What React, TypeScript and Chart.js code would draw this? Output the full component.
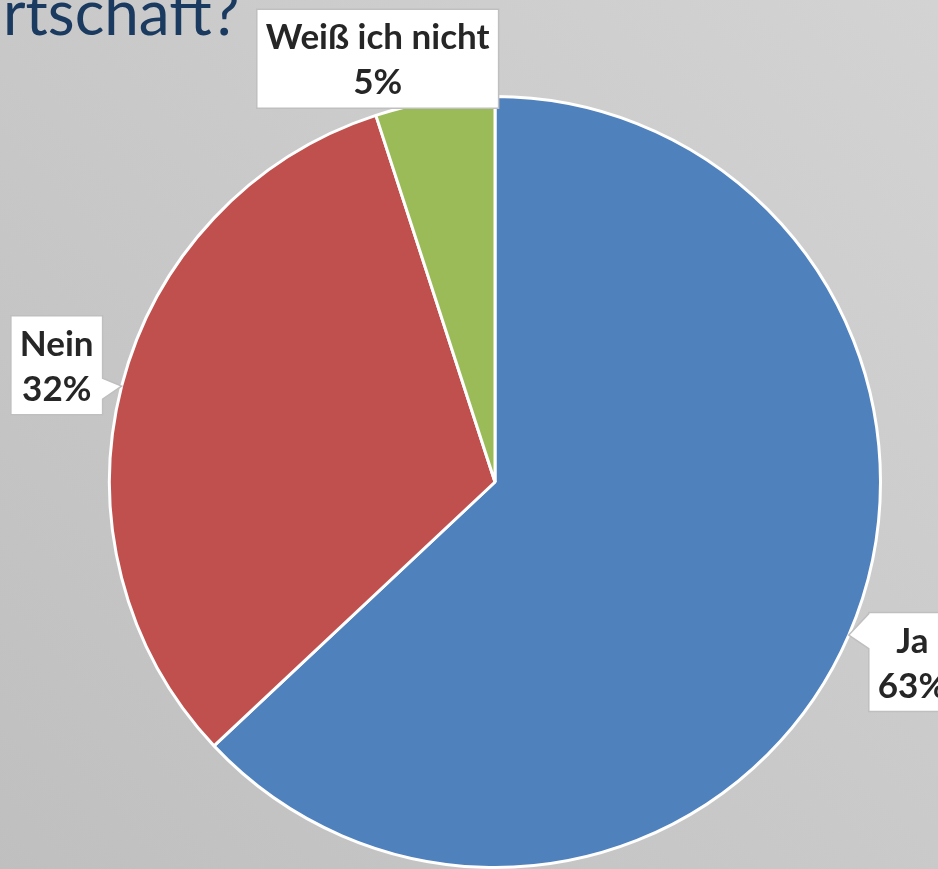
import React, { useEffect, useRef } from "react";
import { Chart, registerables } from "chart.js";

Chart.register(...registerables);

const categories = ["Ja", "Nein", "Weiß ich nicht"];
const values = [63, 32, 5];
const valueLabels = ["63%", "32%", "5%"];
const sliceColors = ["#4f81bd", "#c0504d", "#9bbb59"];
const titleText = "rtschaft?";

// label box placement (style): side of anchor, offsets
const labelPlacement = [
  { side: "right", gap: 20, dy: 27 },
  { side: "left", gap: 19, dy: -21 },
  { side: "above", gap: 7, dx: -57 },
];

const FONT = "bold 35px Lato, 'Noto Sans', sans-serif";
const LINE_H = 45;
const BOX_H = 99;
const PAD = 9;

const labelPlugin = {
  id: "calloutLabels",
  beforeDraw(chart: any) {
    const ctx = chart.ctx;
    ctx.save();
    const g = ctx.createLinearGradient(0, chart.height, chart.width, 0);
    g.addColorStop(0, "#bfbfbf");
    g.addColorStop(0.5, "#c9c9c9");
    g.addColorStop(1, "#d3d3d3");
    ctx.fillStyle = g;
    ctx.fillRect(0, 0, chart.width, chart.height);
    ctx.fillStyle = "#1b3a60";
    ctx.font = "400 62px Lato, 'Noto Sans', sans-serif";
    ctx.textBaseline = "alphabetic";
    ctx.textAlign = "left";
    ctx.fillText(titleText, 3, 35);
    ctx.restore();
  },
  afterDraw(chart: any) {
    const ctx = chart.ctx;
    const meta = chart.getDatasetMeta(0);
    ctx.save();
    ctx.font = FONT;
    meta.data.forEach((arc: any, i: number) => {
      const p = arc.getProps(["x", "y", "startAngle", "endAngle", "outerRadius"], true);
      const mid = (p.startAngle + p.endAngle) / 2;
      const ax = p.x + Math.cos(mid) * p.outerRadius;
      const ay = p.y + Math.sin(mid) * p.outerRadius;
      const l1 = categories[i];
      const l2 = valueLabels[i];
      const tw = Math.max(ctx.measureText(l1).width, ctx.measureText(l2).width);
      const w = tw + PAD * 2;
      const pl: any = labelPlacement[i];
      let bx = 0, by = 0;
      if (pl.side === "right") {
        bx = ax + pl.gap;
        by = ay + pl.dy - BOX_H / 2;
      } else if (pl.side === "left") {
        bx = ax - pl.gap - w;
        by = ay + pl.dy - BOX_H / 2;
      } else {
        bx = ax + pl.dx - w / 2;
        by = ay + pl.gap - BOX_H;
      }
      ctx.beginPath();
      if (pl.side === "right") {
        ctx.moveTo(bx, by);
        ctx.lineTo(bx + w, by);
        ctx.lineTo(bx + w, by + BOX_H);
        ctx.lineTo(bx, by + BOX_H);
        ctx.lineTo(bx, by + 36);
        ctx.lineTo(ax, ay);
        ctx.lineTo(bx, by + 1);
        ctx.closePath();
      } else if (pl.side === "left") {
        const y0 = ay - 8, y1 = ay + 13;
        ctx.moveTo(bx, by);
        ctx.lineTo(bx + w, by);
        ctx.lineTo(bx + w, y0);
        ctx.lineTo(ax, ay);
        ctx.lineTo(bx + w, y1);
        ctx.lineTo(bx + w, by + BOX_H);
        ctx.lineTo(bx, by + BOX_H);
        ctx.closePath();
      } else {
        ctx.rect(bx, by, w, BOX_H);
      }
      ctx.fillStyle = "#ffffff";
      ctx.fill();
      ctx.strokeStyle = "#bfbfbf";
      ctx.lineWidth = 1.5;
      ctx.stroke();
      ctx.fillStyle = "#262626";
      ctx.textAlign = "center";
      ctx.textBaseline = "alphabetic";
      const cx = bx + w / 2;
      ctx.fillText(l1, cx, by + 40);
      ctx.fillText(l2, cx, by + 40 + LINE_H);
    });
    ctx.restore();
  },
};

export default function App() {
  const ref = useRef<HTMLCanvasElement | null>(null);
  useEffect(() => {
    document.body.style.margin = "0";
    const chart = new Chart(ref.current as HTMLCanvasElement, {
      type: "pie",
      data: {
        labels: categories,
        datasets: [
          {
            data: values,
            backgroundColor: sliceColors,
            borderColor: "#ffffff",
            borderWidth: 3,
          },
        ],
      },
      options: {
        responsive: false,
        animation: false,
        layout: { padding: { left: 108, right: 56, top: 95, bottom: 31 } },
        plugins: {
          legend: { display: false },
          tooltip: { enabled: false },
        },
      },
      plugins: [labelPlugin],
    });
    return () => chart.destroy();
  }, []);
  return (
    <div style={{ position: "absolute", left: 0, top: 0, width: 938, height: 869, overflow: "hidden" }}>
      <canvas ref={ref} width={938} height={900} style={{ display: "block" }} />
    </div>
  );
}
